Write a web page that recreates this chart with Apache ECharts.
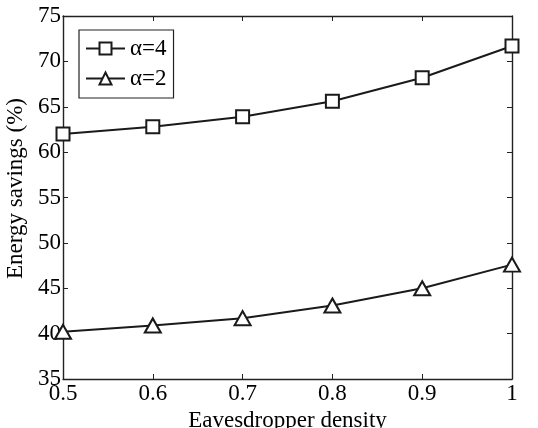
<!DOCTYPE html>
<html><head><meta charset="utf-8">
<script src="https://cdn.jsdelivr.net/npm/echarts@6/dist/echarts.min.js"></script>
<style>html,body{margin:0;padding:0;background:#fff}#c{width:538px;height:428px}</style>
</head><body><div id="c"></div>
<script>
const xValues = [0.5, 0.6, 0.7, 0.8, 0.9, 1.0];
const alpha4 = [62.0, 62.8, 63.9, 65.6, 68.2, 71.7];
const alpha2 = [40.2, 40.9, 41.7, 43.1, 45.0, 47.6];
const seriesNames = ['\u03b1=4', '\u03b1=2'];
const xName = 'Eavesdropper density';
const yName = 'Energy savings (%)';
const F = 'Liberation Serif';
const chart = echarts.init(document.getElementById('c'));
const axisCommon = {
  axisLine: {show: true, lineStyle: {color: '#222', width: 1.4}},
  axisTick: {show: true, inside: true, length: 5, lineStyle: {color: '#222'}},
  splitLine: {show: false}
};
chart.setOption({
  animation: false,
  backgroundColor: '#fff',
  textStyle: {fontFamily: F},
  grid: {left: 63, right: 26, top: 16, bottom: 49, containLabel: false, outerBoundsMode: 'none'},
  legend: {
    left: 79, top: 30, orient: 'vertical',
    data: seriesNames,
    borderColor: '#222', borderWidth: 1.2, backgroundColor: '#fff',
    padding: [7, 7, 8, 6], itemGap: 7, itemWidth: 39, itemHeight: 15,
    formatter: n => '{t|' + n + '}',
    textStyle: {fontFamily: F, fontSize: 23, color: '#000',
      rich: {t: {fontFamily: F, fontSize: 23, color: '#000'}}}
  },
  xAxis: [
    Object.assign({type: 'value', min: 0.5, max: 1, interval: 0.1,
      name: xName, nameLocation: 'middle', nameGap: 25,
      nameTextStyle: {fontFamily: F, fontSize: 23, color: '#000'},
      axisLabel: {fontFamily: F, fontSize: 23, color: '#000', margin: 3,
        formatter: v => (Math.abs(v - 1) < 1e-9 ? '1' : v.toFixed(1))}}, axisCommon),
    Object.assign({type: 'value', min: 0.5, max: 1, interval: 0.1, position: 'top',
      axisLabel: {show: false}}, axisCommon)
  ],
  yAxis: [
    Object.assign({type: 'value', min: 35, max: 75, interval: 5,
      name: yName, nameLocation: 'middle', nameGap: 27,
      nameTextStyle: {fontFamily: F, fontSize: 23, color: '#000', padding: [0, 0, 0, 18]},
      axisLabel: {fontFamily: F, fontSize: 23, color: '#000', margin: 2}}, axisCommon),
    Object.assign({type: 'value', min: 35, max: 75, interval: 5, position: 'right',
      axisLabel: {show: false}}, axisCommon)
  ],
  series: [
    {name: seriesNames[0], type: 'line', data: xValues.map((x, i) => [x, alpha4[i]]),
      symbol: 'rect', symbolSize: 13, showAllSymbol: true,
      lineStyle: {color: '#1a1a1a', width: 2},
      itemStyle: {color: '#fff', borderColor: '#1a1a1a', borderWidth: 2}},
    {name: seriesNames[1], type: 'line', data: xValues.map((x, i) => [x, alpha2[i]]),
      symbol: 'triangle', symbolSize: [16, 14], showAllSymbol: true,
      lineStyle: {color: '#1a1a1a', width: 2},
      itemStyle: {color: '#fff', borderColor: '#1a1a1a', borderWidth: 2}}
  ]
});
</script></body></html>
